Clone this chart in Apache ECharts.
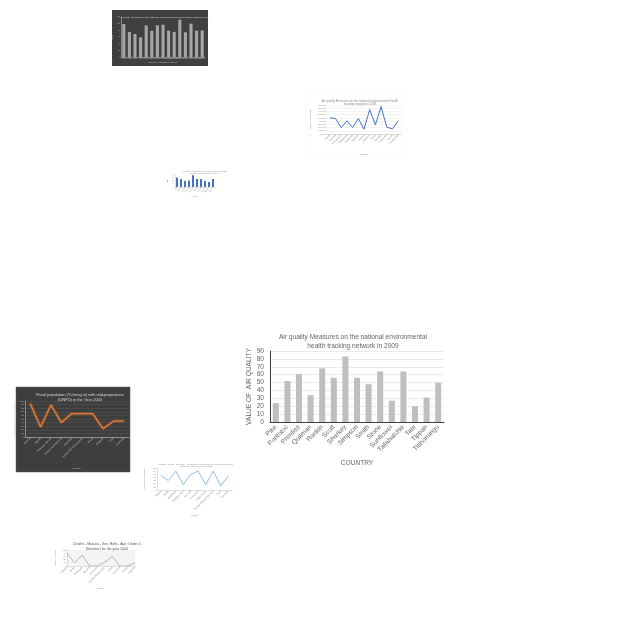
<!DOCTYPE html>
<html>
<head>
<meta charset="utf-8">
<script src="https://cdn.jsdelivr.net/npm/echarts@6/dist/echarts.min.js"></script>
<style>
html,body{margin:0;padding:0;background:#fff;}
#main{width:640px;height:640px;}
</style>
</head>
<body>
<div id="main"></div>
<script>
// ---- Main chart data ----
const mainTitle = 'Air quality Measures on the national environmental\nhealth tracking network in 2009';
const mainCategories = ['Pike','Pontotoc','Prentiss','Quitman','Rankin','Scott','Sharkey','Simpson','Smith','Stone','Sunflower','Tallahatchie','Tate','Tippah','Tishomingo'];
const mainValues = [24, 52, 61, 34, 68, 56, 83, 56, 48, 64, 27, 64, 20, 31, 50];

// ---- Thumbnail charts data ----
const darkBarCategories = ['Adams','Alcorn','Amite','Attala','Benton','Bolivar','Calhoun','Carroll','Chickasaw','Choctaw','Claiborne','Clarke','Clay','Coahoma','Copiah'];
const darkBarValues = [99, 75, 69, 59, 95, 79, 95, 97, 79, 75, 112, 74, 100, 79, 80];

const blueLineCategories = ['Hinds','Holmes','Humphreys','Issaquena','Itawamba','Jackson','Jasper','Jefferson','Jones','Kemper','Lafayette','Lamar','Lauderdale'];
const blueLineValues = [50, 48, 20, 41, 20, 48, 15, 76, 28, 85, 21, 16, 41];

const smallBarCategories = ['Lee','Leflore','Lincoln','Lowndes','Madison','Marion','Marshall','Monroe','Neshoba','Newton'];
const smallBarValues = [32, 27, 20, 22, 39, 27, 27, 20, 17, 27];

const orangeCategories = ['Albania','Algeria','American Samoa','Antigua and Barbuda','Argentina','Bosnia and Herzegovina','Brazil','Bulgaria','Chile','Colombia'];
const orangeValues = [93, 28, 89, 40, 65, 65, 65, 23, 44, 44];

const lightLineCategories = ['Angola','Benin','Botswana','Burkina Faso','Burundi','Cameroon','Cape Verde','Central African Republic','Chad','Comoros'];
const lightLineValues = [47, 30, 60, 17, 50, 60, 17, 60, 13, 45];

const malariaCategories = ['Angola','Benin','Botswana','Burundi','Cameroon','Central African Rep.','Chad','Comoros','Congo','Djibouti'];
const malariaValues = [40, 10, 34, 0, 0, 12, 30, 0, 0, 10];

const FONT = 'Liberation Sans, Arial, sans-serif';
const chart = echarts.init(document.getElementById('main'), null, {renderer:'canvas'});

function tinyAxis(color, size) {
  return { fontSize: size, color: color, fontFamily: FONT };
}

const option = {
  backgroundColor: '#ffffff',
  animation: false,
  graphic: [
    { type:'rect', shape:{x:112,y:10,width:96,height:56}, style:{fill:'#404040'}, z:-10 },
    { type:'rect', shape:{x:16,y:387,width:114,height:85}, style:{fill:'#3e3e3e', stroke:'#5a5a5a', lineWidth:0.5}, z:-10 },
    { type:'rect', shape:{x:306,y:92,width:96,height:66}, style:{fill:'#ffffff', stroke:'#f0f0f0', lineWidth:0.5}, z:-10 }
  ],
  title: [
    { text: mainTitle, left: 348, top: 328, textAlign: 'center',
      textStyle: { fontSize: 6.6, fontWeight: 'normal', color: '#666666', fontFamily: FONT, lineHeight: 8.5 } },
    { text: 'Air quality Measures on the national environmental health tracking network in 2009', left: 160, top: 11, textAlign:'center',
      textStyle: { fontSize: 2.5, fontWeight:'normal', color:'#d9d9d9', fontFamily: FONT, backgroundColor:'#bfbfbf' } },
    { text: 'Air quality Measures on the national environmental health\ntracking network in 2009', left: 355, top: 94, textAlign:'center',
      textStyle: { fontSize: 3, fontWeight:'normal', color:'#8c8c8c', fontFamily: FONT, lineHeight: 3.5 } },
    { text: 'Air quality Measures on the national environmental\nhealth tracking network in 2009', left: 199, top: 165, textAlign:'center',
      textStyle: { fontSize: 2, fontWeight:'normal', color:'#8c8c8c', fontFamily: FONT, lineHeight: 2.5 } },
    { text: 'Rural population (% living in) with mid-projections\n(UNPD) in the Year 2000', left: 75, top: 387, textAlign:'center',
      textStyle: { fontSize: 4, fontWeight:'normal', color:'#d9d9d9', fontFamily: FONT, lineHeight: 5 } },
    { text: 'Deaths - Malaria - Sex: Both - Age: Under 5 (Number) for the year 2000 in selected\ncountries of Africa by WHO estimates', left: 191, top: 458, textAlign:'center',
      textStyle: { fontSize: 2, fontWeight:'normal', color:'#8c8c8c', fontFamily: FONT, lineHeight: 2.5 } },
    { text: 'Deaths - Malaria - Sex: Both - Age: Under 5\n(Number) for the year 2000', left: 102, top: 537, textAlign:'center',
      textStyle: { fontSize: 3.5, fontWeight:'normal', color:'#595959', fontFamily: FONT, lineHeight: 5 } }
  ],
  grid: [
    { left: 270, top: 351, width: 174, height: 71 },            // 0 main
    { left: 121, top: 17, width: 84, height: 40 },               // 1 dark bars
    { left: 327, top: 105, width: 74, height: 29 },              // 2 blue line
    { left: 175, top: 175, width: 40, height: 12 },              // 3 small bars
    { left: 25, top: 401, width: 104, height: 36 },              // 4 orange line
    { left: 157, top: 468, width: 75, height: 22 },              // 5 light blue line
    { left: 67, top: 550, width: 68, height: 16, show: true, backgroundColor: '#f4f4f4', borderWidth: 0 } // 6 malaria
  ],
  xAxis: [
    { gridIndex: 0, type: 'category', data: mainCategories,
      axisLine: { lineStyle: { color: '#404040', width: 1 } }, axisTick: { show: false },
      axisLabel: { rotate: 45, fontSize: 6.6, color: '#666666', margin: 4, interval: 0, fontFamily: FONT },
      name: 'COUNTRY', nameLocation: 'middle', nameGap: 38,
      nameTextStyle: { fontSize: 6.6, color: '#666666', fontFamily: FONT } },
    { gridIndex: 1, type: 'category', data: darkBarCategories,
      axisLine: { lineStyle: { color: '#d9d9d9', width: 0.5 } }, axisTick: { show: false },
      axisLabel: { ...tinyAxis('#bfbfbf', 1.5), interval: 0, margin: 1 },
      name: 'Counties of Mississippi in the US', nameLocation: 'middle', nameGap: 4,
      nameTextStyle: tinyAxis('#bfbfbf', 2) },
    { gridIndex: 2, type: 'category', data: blueLineCategories,
      axisLine: { lineStyle: { color: '#bfbfbf', width: 0.5 } }, axisTick: { show: false },
      axisLabel: { ...tinyAxis('#8c8c8c', 2.5), rotate: 45, interval: 0, margin: 1 },
      name: 'Country', nameLocation: 'middle', nameGap: 19,
      nameTextStyle: tinyAxis('#8c8c8c', 2.5) },
    { gridIndex: 3, type: 'category', data: smallBarCategories,
      axisLine: { lineStyle: { color: '#bfbfbf', width: 0.5 } }, axisTick: { show: false },
      axisLabel: { ...tinyAxis('#8c8c8c', 1.5), rotate: 45, interval: 0, margin: 1 },
      name: 'County', nameLocation: 'middle', nameGap: 9,
      nameTextStyle: tinyAxis('#8c8c8c', 1.5) },
    { gridIndex: 4, type: 'category', data: orangeCategories,
      axisLine: { lineStyle: { color: '#d9d9d9', width: 0.5 } }, axisTick: { show: false },
      axisLabel: { ...tinyAxis('#bfbfbf', 2.5), rotate: 45, interval: 0, margin: 1 },
      name: 'Country', nameLocation: 'middle', nameGap: 30,
      nameTextStyle: tinyAxis('#bfbfbf', 2.5) },
    { gridIndex: 5, type: 'category', data: lightLineCategories,
      axisLine: { lineStyle: { color: '#bfbfbf', width: 0.5 } }, axisTick: { show: false },
      axisLabel: { ...tinyAxis('#8c8c8c', 2.5), rotate: 45, interval: 0, margin: 1 },
      name: 'Country', nameLocation: 'middle', nameGap: 22,
      nameTextStyle: tinyAxis('#8c8c8c', 2) },
    { gridIndex: 6, type: 'category', data: malariaCategories, boundaryGap: false,
      axisLine: { lineStyle: { color: '#bfbfbf', width: 0.5 } }, axisTick: { show: false },
      axisLabel: { ...tinyAxis('#8c8c8c', 2.5), rotate: 45, interval: 0, margin: 1 },
      name: 'Country', nameLocation: 'middle', nameGap: 20,
      nameTextStyle: tinyAxis('#8c8c8c', 2) }
  ],
  yAxis: [
    { gridIndex: 0, type: 'value', min: 0, max: 90, interval: 10,
      axisLine: { show: true, lineStyle: { color: '#404040', width: 1 } }, axisTick: { show: false },
      splitLine: { lineStyle: { color: '#ebebeb', width: 1 } },
      axisLabel: { fontSize: 6.6, color: '#666666', margin: 6, fontFamily: FONT },
      name: 'VALUE OF  AIR QUALITY', nameLocation: 'middle', nameGap: 16,
      nameTextStyle: { fontSize: 6.6, color: '#666666', fontFamily: FONT } },
    { gridIndex: 1, type: 'value', min: 0, max: 120, interval: 20,
      axisLine: { show: true, lineStyle: { color: '#d9d9d9', width: 0.5 } }, axisTick: { show: false },
      splitLine: { show: false },
      axisLabel: { ...tinyAxis('#bfbfbf', 1.5), margin: 1 },
      name: 'Value', nameLocation: 'middle', nameGap: 5, nameTextStyle: tinyAxis('#bfbfbf', 2) },
    { gridIndex: 2, type: 'value', min: 0, max: 90, interval: 10,
      axisLine: { show: false }, axisTick: { show: false },
      splitLine: { lineStyle: { color: '#e6e6e6', width: 0.5 } },
      axisLabel: { ...tinyAxis('#8c8c8c', 2.5), margin: 1, formatter: v => v + ',000' },
      name: 'Value of air quality', nameLocation: 'middle', nameGap: 15, nameTextStyle: tinyAxis('#8c8c8c', 2.5) },
    { gridIndex: 3, type: 'value', min: 0, max: 40, interval: 10,
      axisLine: { show: true, lineStyle: { color: '#bfbfbf', width: 0.5 } }, axisTick: { show: false },
      splitLine: { show: false },
      axisLabel: { ...tinyAxis('#8c8c8c', 1.5), margin: 1 },
      name: 'Value', nameLocation: 'middle', nameGap: 4, nameTextStyle: tinyAxis('#8c8c8c', 1.5) },
    { gridIndex: 4, type: 'value', min: 0, max: 100, interval: 10,
      axisLine: { show: true, lineStyle: { color: '#d9d9d9', width: 0.5 } }, axisTick: { show: false },
      splitLine: { lineStyle: { color: '#575757', width: 0.5 } },
      axisLabel: { ...tinyAxis('#bfbfbf', 2.5), margin: 1 },
      name: 'Percentage of Rural Population', nameLocation: 'middle', nameGap: 6, nameTextStyle: tinyAxis('#bfbfbf', 2.5) },
    { gridIndex: 5, type: 'value', min: 0, max: 70, interval: 10,
      axisLine: { show: true, lineStyle: { color: '#bfbfbf', width: 0.5 } }, axisTick: { show: false },
      splitLine: { show: false },
      axisLabel: { ...tinyAxis('#8c8c8c', 2.5), margin: 1 },
      name: 'Number of deaths', nameLocation: 'middle', nameGap: 11, nameTextStyle: tinyAxis('#8c8c8c', 2.5) },
    { gridIndex: 6, type: 'value', min: 0, max: 50, interval: 10,
      axisLine: { show: true, lineStyle: { color: '#bfbfbf', width: 0.5 } }, axisTick: { show: false },
      splitLine: { show: false },
      axisLabel: { ...tinyAxis('#8c8c8c', 2.5), margin: 1 },
      name: 'Number of deaths', nameLocation: 'middle', nameGap: 11, nameTextStyle: tinyAxis('#8c8c8c', 2) }
  ],
  series: [
    { type: 'bar', xAxisIndex: 0, yAxisIndex: 0, data: mainValues, barWidth: '52%',
      itemStyle: { color: '#bfbfbf' } },
    { type: 'bar', xAxisIndex: 1, yAxisIndex: 1, data: darkBarValues, barWidth: '55%',
      itemStyle: { color: '#a6a6a6' } },
    { type: 'line', xAxisIndex: 2, yAxisIndex: 2, data: blueLineValues, symbol: 'none',
      lineStyle: { color: '#4472c4', width: 1 } },
    { type: 'bar', xAxisIndex: 3, yAxisIndex: 3, data: smallBarValues, barWidth: '50%',
      itemStyle: { color: '#4472c4' } },
    { type: 'line', xAxisIndex: 4, yAxisIndex: 4, data: orangeValues, symbol: 'none',
      lineStyle: { color: '#e87a30', width: 1.3, shadowBlur: 2, shadowColor: 'rgba(237,125,49,0.7)' } },
    { type: 'line', xAxisIndex: 5, yAxisIndex: 5, data: lightLineValues, symbol: 'none',
      lineStyle: { color: '#8fbfe3', width: 1 } },
    { type: 'line', xAxisIndex: 6, yAxisIndex: 6, data: malariaValues, symbol: 'none',
      lineStyle: { color: '#a6a6a6', width: 0.8 } }
  ]
};
chart.setOption(option);
</script>
</body>
</html>
